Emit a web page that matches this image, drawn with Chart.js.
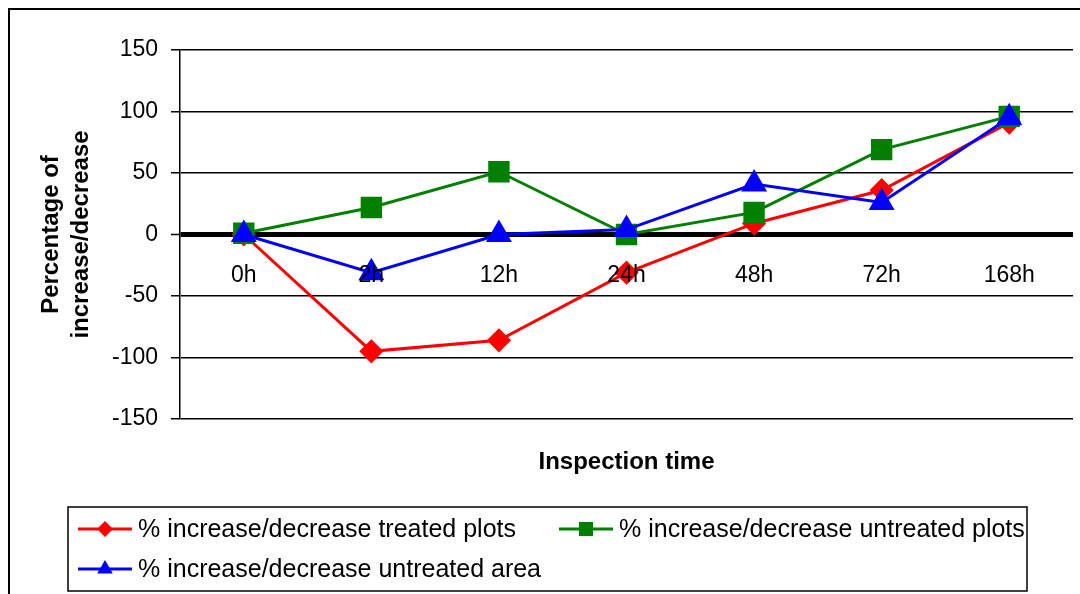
<!DOCTYPE html>
<html>
<head>
<meta charset="utf-8">
<script src="https://cdn.jsdelivr.net/npm/chart.js@4.4.1/dist/chart.umd.min.js"></script>
<style>
  html, body { margin: 0; padding: 0; background: #fff; }
  #wrap { width: 1080px; height: 594px; position: relative; }
</style>
</head>
<body>
<div id="wrap"><canvas id="chart"></canvas></div>
<script>
const categories = ['0h', '2h', '12h', '24h', '48h', '72h', '168h'];
const treatedPlots = [0, -95, -86, -31, 9, 36, 91];
const untreatedPlots = [1, 22, 51, 0, 18, 69, 96];
const untreatedArea = [0, -31, 0, 4, 41, 26, 95];
const yTicks = [-150, -100, -50, 0, 50, 100, 150];

const seriesNames = [
    '% increase/decrease treated plots',
    '% increase/decrease untreated plots',
    '% increase/decrease untreated area'
];

const FONT = '"Liberation Sans", Arial, sans-serif';

// outer frame of the chart object
const framePlugin = {
    id: 'frame',
    beforeDraw(chart) {
        const c = chart.ctx;
        c.save();
        c.fillStyle = '#fff';
        c.fillRect(0, 0, chart.width, chart.height);
        c.strokeStyle = '#000';
        c.lineWidth = 2;
        c.strokeRect(9, 9, 1200, 800);
        c.restore();
    }
};

// category labels sit just under the zero line
const zeroLabels = {
    id: 'zeroLabels',
    afterDatasetsDraw(chart) {
        const c = chart.ctx;
        const x = chart.scales.x;
        const y0 = chart.scales.y.getPixelForValue(0);
        c.save();
        c.font = '23px ' + FONT;
        c.fillStyle = '#000';
        c.textAlign = 'center';
        c.textBaseline = 'alphabetic';
        categories.forEach(function (lab, i) {
            c.fillText(lab, x.getPixelForTick(i), y0 + 47);
        });
        c.restore();
    }
};

// legend box with line + marker samples
const boxLegend = {
    id: 'boxLegend',
    afterDraw(chart) {
        const c = chart.ctx;
        c.save();
        c.strokeStyle = '#000';
        c.lineWidth = 1.5;
        c.strokeRect(68, 507, 959, 84);
        const spots = [[78, 529], [559, 529], [78, 569]];
        chart.data.datasets.forEach(function (ds, i) {
            const sx = spots[i][0], sy = spots[i][1];
            c.strokeStyle = ds.borderColor;
            c.lineWidth = 3;
            c.beginPath();
            c.moveTo(sx, sy);
            c.lineTo(sx + 54, sy);
            c.stroke();
            c.fillStyle = ds.backgroundColor;
            Chart.helpers.drawPoint(c, {
                pointStyle: ds.pointStyle,
                radius: ds.legendRadius,
                borderWidth: 0,
                rotation: 0
            }, sx + 27, sy);
            c.fillStyle = '#000';
            c.font = '25px ' + FONT;
            c.textAlign = 'left';
            c.textBaseline = 'middle';
            c.fillText(ds.label, sx + 60, sy + 1);
        });
        c.restore();
    }
};

const ctx = document.getElementById('chart').getContext('2d');
const chart = new Chart(ctx, {
    type: 'line',
    data: {
        labels: categories,
        datasets: [{
            label: seriesNames[0],
            data: treatedPlots,
            borderColor: '#FF0000',
            backgroundColor: '#FF0000',
            pointStyle: 'rectRot',
            pointRadius: 10,
            legendRadius: 8,
            borderWidth: 3,
            order: 2
        }, {
            label: seriesNames[1],
            data: untreatedPlots,
            borderColor: '#008000',
            backgroundColor: '#008000',
            pointStyle: 'rect',
            pointRadius: 13,
            legendRadius: 10,
            borderWidth: 3,
            order: 1
        }, {
            label: seriesNames[2],
            data: untreatedArea,
            borderColor: '#0000FF',
            backgroundColor: '#0000FF',
            pointStyle: 'triangle',
            pointRadius: 12,
            legendRadius: 9,
            borderWidth: 3,
            order: 0
        }]
    },
    options: {
        responsive: true,
        maintainAspectRatio: false,
        animation: false,
        elements: {
            line: { tension: 0 },
            point: { borderWidth: 0, hoverRadius: 12 }
        },
        layout: { autoPadding: false, padding: { top: 50, right: 7, left: 0, bottom: 0 } },
        plugins: {
            legend: { display: false },
            tooltip: { enabled: false }
        },
        scales: {
            x: {
                offset: true,
                grid: { display: false },
                border: { display: false },
                ticks: { display: false },
                title: {
                    display: true,
                    text: 'Inspection time',
                    color: '#000',
                    font: { family: FONT, size: 24, weight: 'bold' },
                    padding: { top: 0, bottom: 117 }
                },
                afterFit(scale) { scale.height = 175; }
            },
            y: {
                min: -150,
                max: 150,
                afterBuildTicks(scale) {
                    scale.ticks = yTicks.map(function (v) { return { value: v }; });
                },
                grid: {
                    color: '#000',
                    lineWidth(c) { return c.tick && c.tick.value === 0 ? 5 : 1.5; },
                    tickWidth: 1.5,
                    tickLength: 9,
                    drawTicks: true
                },
                border: { display: true, color: '#000', width: 1.5 },
                ticks: {
                    color: '#000',
                    padding: 13,
                    font: { family: FONT, size: 23 }
                },
                title: {
                    display: true,
                    text: ['Percentage of', 'increase/decrease'],
                    color: '#000',
                    font: { family: FONT, size: 24, weight: 'bold', lineHeight: '30px' },
                    padding: { top: 36, bottom: 0 }
                },
                afterFit(scale) { scale.width = 180; }
            }
        }
    },
    plugins: [framePlugin, zeroLabels, boxLegend]
});
</script>
</body>
</html>
